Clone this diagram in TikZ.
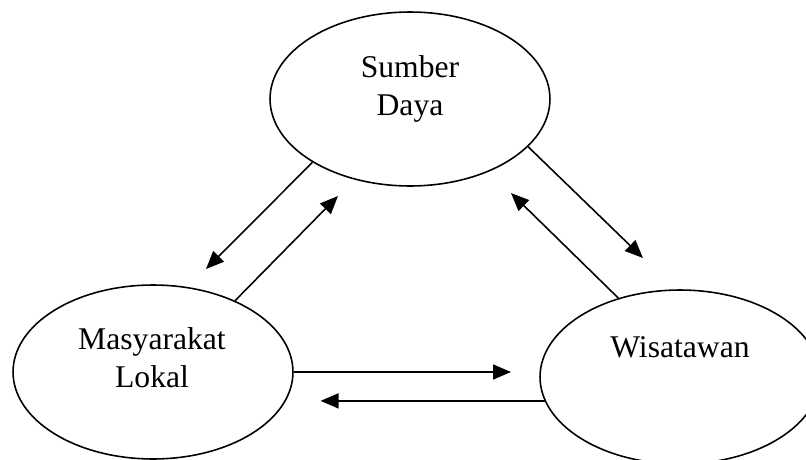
\documentclass[tikz,border=0pt]{standalone}
\usepackage{fontspec}
\setmainfont{Liberation Serif}
\usetikzlibrary{shapes.geometric,arrows.meta,positioning}

\begin{document}
\begin{tikzpicture}[x=0.02cm, y=-0.02cm,
  actor/.style={ellipse, draw, line width=0.9pt, minimum width=5.6cm, minimum height=3.48cm, inner sep=0pt},
  lbl/.style={align=center, inner sep=0pt, font=\fontsize{18}{21.5}\selectfont},
  arr/.style={-{Triangle[length=0.36cm, width=0.3cm]}, line width=0.9pt}
]
  \useasboundingbox (0,0) rectangle (806,460);

  \node[actor] (sd) at (410,99) {};
  \node[actor] (ml) at (153,372) {};
  \node[actor] (ws) at (680,377) {};

  \node[lbl] (sd-t) at (410,89) {Sumber\\Daya};
  \node[lbl] (ml-t) at (152,358) {Masyarakat\\Lokal};
  \node[lbl] (ws-t) at (680,347) {Wisatawan};

  % free ends of the arrows
  \coordinate (t1) at (206,269);
  \coordinate (t2) at (338,196);
  \coordinate (t3) at (643,258);
  \coordinate (t4) at (511,193);
  \coordinate (t5) at (511,372);
  \path (ws.190) ++(-224,0) coordinate (t6);

  \foreach \a/\b in {sd.213/t1, ml.41/t2, sd.338.5/t3, ws.128.8/t4, ml.east/t5, ws.190/t6} {
    \draw[arr] (\a) -- (\b);
  }
\end{tikzpicture}
\end{document}
